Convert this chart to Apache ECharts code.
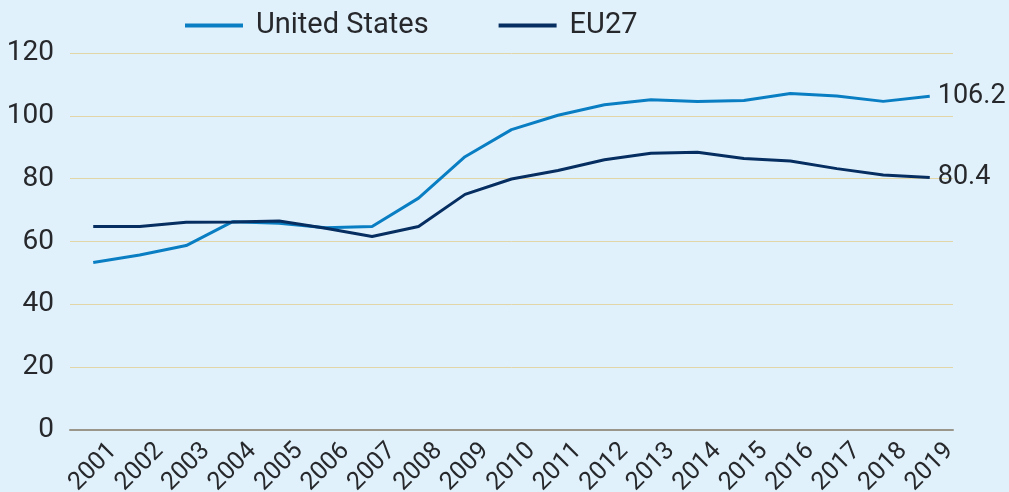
<!DOCTYPE html>
<html>
<head>
<meta charset="utf-8">
<script src="https://cdn.jsdelivr.net/npm/echarts@6/dist/echarts.min.js"></script>
<style>
  html, body { margin: 0; padding: 0; background: #e0f1fc; }
  #chart { width: 1009px; height: 492px; }
</style>
</head>
<body>
<div id="chart"></div>
<script>
const years = ['2001', '2002', '2003', '2004', '2005', '2006', '2007', '2008', '2009', '2010',
    '2011', '2012', '2013', '2014', '2015', '2016', '2017', '2018', '2019'];
const usValues = [53.3, 55.7, 58.7, 66.3, 65.8, 64.4, 64.8, 73.8, 87.0, 95.6,
    100.2, 103.5, 105.1, 104.6, 104.9, 107.1, 106.3, 104.6, 106.2];
const euValues = [64.8, 64.8, 66.1, 66.2, 66.5, 64.2, 61.6, 64.8, 75.0, 79.9,
    82.6, 86.0, 88.1, 88.4, 86.4, 85.6, 83.2, 81.2, 80.4];

const chart = echarts.init(document.getElementById('chart'));
const font = 'Roboto';
const textColor = '#26282b';

const option = {
    backgroundColor: '#e0f1fc',
    animation: false,
    legend: {
        left: 180,
        top: 6,
        icon: 'rect',
        itemWidth: 58,
        itemHeight: 4,
        itemGap: 70,
        textStyle: {
            fontFamily: font,
            fontSize: 29,
            color: textColor,
            padding: [0, 0, 0, 8]
        },
        data: ['United States', 'EU27']
    },
    grid: {
        left: 70,
        right: 56,
        top: 53,
        bottom: 62,
        containLabel: false,
        outerBoundsMode: 'none'
    },
    xAxis: {
        type: 'category',
        data: years,
        boundaryGap: true,
        axisLine: { lineStyle: { color: '#9a978a', width: 2 } },
        axisTick: { show: false },
        axisLabel: {
            rotate: 45,
            interval: 0,
            margin: 37,
            align: 'center',
            verticalAlign: 'middle',
            fontFamily: font,
            fontSize: 25,
            color: textColor
        }
    },
    yAxis: {
        type: 'value',
        min: 0,
        max: 120,
        interval: 20,
        axisLine: { show: false },
        axisTick: { show: false },
        splitLine: { lineStyle: { color: '#e2d6a6', width: 1 } },
        axisLabel: {
            margin: 16,
            fontFamily: font,
            fontSize: 28,
            color: textColor
        }
    },
    series: [
        {
            name: 'United States',
            type: 'line',
            data: usValues,
            showSymbol: false,
            symbol: 'none',
            color: '#0a7ec2',
            lineStyle: { width: 3 },
            endLabel: {
                show: true,
                formatter: '{c}',
                distance: 8,
                fontFamily: font,
                fontSize: 27,
                color: textColor
            }
        },
        {
            name: 'EU27',
            type: 'line',
            data: euValues,
            showSymbol: false,
            symbol: 'none',
            color: '#062e60',
            lineStyle: { width: 3 },
            endLabel: {
                show: true,
                formatter: '{c}',
                distance: 8,
                fontFamily: font,
                fontSize: 27,
                color: textColor
            }
        }
    ]
};
chart.setOption(option);
</script>
</body>
</html>
